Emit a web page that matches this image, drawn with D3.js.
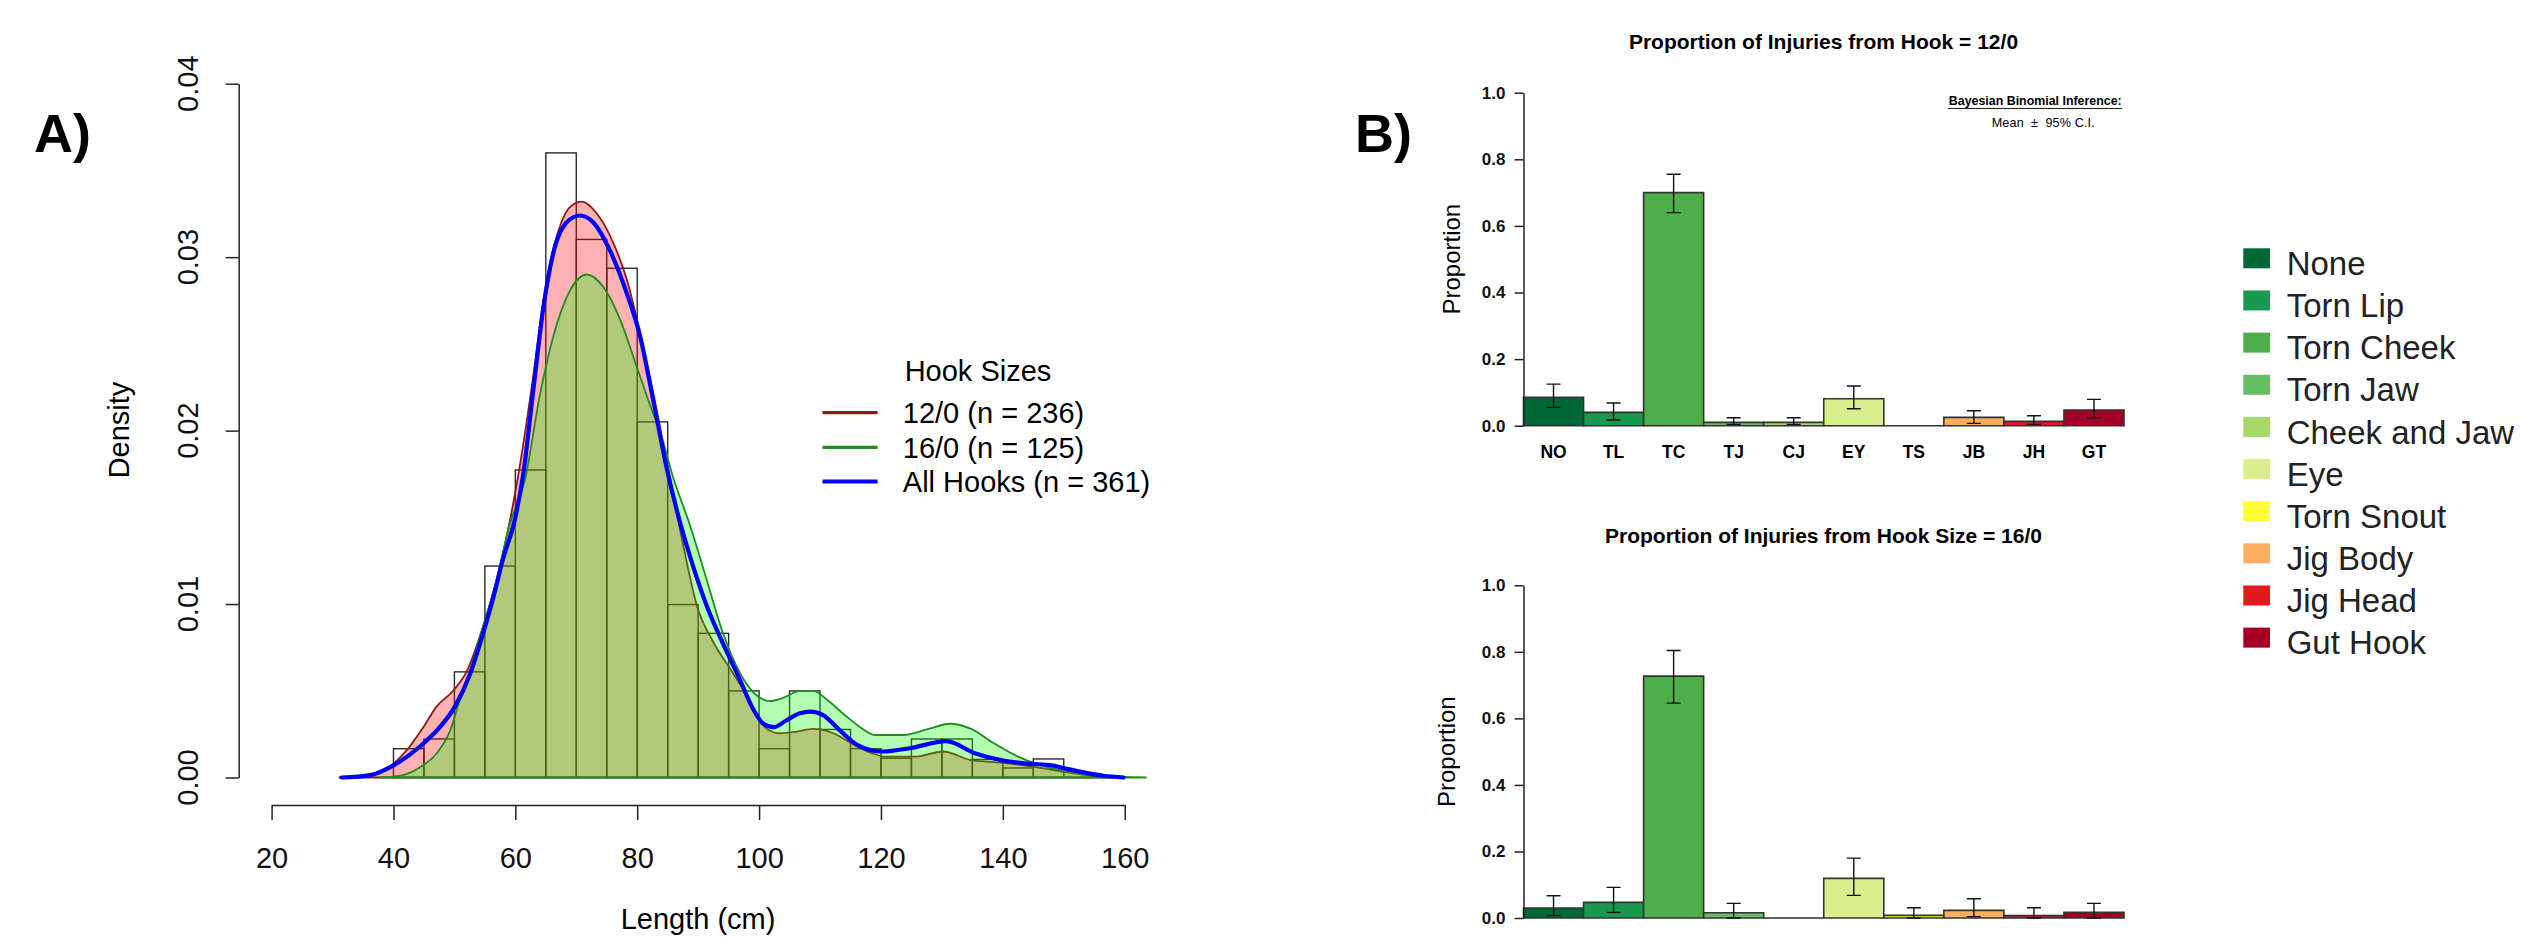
<!DOCTYPE html>
<html>
<head>
<meta charset="utf-8">
<script src="https://cdn.jsdelivr.net/npm/d3@7"></script>
<style>
  body { margin: 0; background: #fff; }
  text { font-family: "Liberation Sans", Arial, sans-serif; }
</style>
</head>
<body>
<script>
/* ---------- data : panel A ---------- */
const binLower = [40, 45, 50, 55, 60, 65, 70, 75, 80, 85, 90, 95, 100, 105, 110, 115, 120, 125, 130, 135, 140, 145];
const binDensity = [0.00166, 0.00222, 0.00609, 0.01219, 0.01773, 0.03601, 0.03102, 0.02936, 0.0205, 0.00997, 0.00831,
  0.00499, 0.00166, 0.00499, 0.00277, 0.00166, 0.00111, 0.00222, 0.00222, 0.00104, 0.00055, 0.00107];
const binWidth = 5;

// density curves: [length, density]
const dens12 = [[31.0, 0], [33.5, 0.00003], [36.2, 0.0001], [40.0, 0.0008], [42.7, 0.0018], [44.9, 0.0029],
  [47.1, 0.0041], [49.8, 0.0050], [52.0, 0.0061], [54.7, 0.0087], [57.5, 0.0122], [60.8, 0.0181], [63.0, 0.0233],
  [64.6, 0.0275], [66.8, 0.0312], [69.0, 0.0329], [70.9, 0.0332], [73.4, 0.0325], [76.1, 0.0308], [78.3, 0.0287],
  [80.5, 0.0256], [82.6, 0.0222], [84.8, 0.0183], [87.6, 0.0133], [89.8, 0.0099], [92.5, 0.0078], [95.2, 0.0063],
  [97.0, 0.0053], [99.1, 0.0039], [101.3, 0.0028], [103.5, 0.00255], [106.2, 0.00264], [108.9, 0.0028],
  [112.2, 0.00255], [115.5, 0.0019], [118.5, 0.0014], [120.8, 0.0012], [125.5, 0.0012], [130.2, 0.0015],
  [134.8, 0.0010], [140.1, 0.00085], [145.4, 0.0006], [150.1, 0.00033], [155.9, 0.00005], [159.0, 0]];

const dens16 = [[37.5, 0], [41.6, 0.00014], [44.4, 0.0006], [47.1, 0.0014], [49.3, 0.0027], [50.9, 0.0045],
  [52.6, 0.0062], [54.2, 0.0081], [57.0, 0.0115], [59.0, 0.0145], [61.6, 0.0172], [64.0, 0.0220], [66.2, 0.0254],
  [69.0, 0.0281], [71.7, 0.0290], [74.4, 0.0283], [77.2, 0.0264], [79.9, 0.0237], [82.6, 0.0210], [83.7, 0.0200],
  [85.9, 0.0173], [88.7, 0.0145], [91.4, 0.0114], [94.1, 0.0083], [96.9, 0.0060], [99.1, 0.0049], [101.8, 0.0044],
  [104.0, 0.0046], [106.7, 0.0050], [108.9, 0.0050], [111.1, 0.0045], [114.4, 0.0035], [116.6, 0.0029],
  [119.0, 0.00245], [123.7, 0.00245], [127.8, 0.0028], [131.3, 0.0031], [134.8, 0.0028], [138.4, 0.0020],
  [142.5, 0.0012], [147.2, 0.0006], [151.9, 0.0003], [155.9, 0.0001], [161.8, 0.00002], [163.6, 0]];

const densAll = [[31.5, 0], [36.2, 0.00014], [40.0, 0.0007], [44.4, 0.0018], [47.6, 0.0029], [50.1, 0.0041],
  [52.6, 0.0060], [54.7, 0.0083], [56.4, 0.0104], [57.9, 0.0125], [60.0, 0.0150], [61.3, 0.0175], [63.0, 0.0225],
  [64.6, 0.0271], [66.2, 0.0302], [68.4, 0.0320], [70.6, 0.0324], [72.8, 0.0320], [75.5, 0.0304], [78.3, 0.0279],
  [80.5, 0.0254], [82.6, 0.0218], [84.8, 0.0179], [86.5, 0.0154], [88.7, 0.0127], [91.4, 0.0099], [94.1, 0.0077],
  [96.9, 0.0056], [99.1, 0.0039], [100.7, 0.0031], [102.4, 0.0029], [104.5, 0.0033], [106.7, 0.0037],
  [108.4, 0.0038], [110.5, 0.0036], [113.3, 0.0027], [116.0, 0.0019], [120.2, 0.0015], [124.9, 0.0017],
  [130.7, 0.0021], [135.4, 0.0014], [140.1, 0.00097], [144.0, 0.0008], [148.0, 0.0007], [150.5, 0.0005],
  [153.2, 0.0003], [156.5, 0.0001], [159.8, 0]];

const xTicksA = [20, 40, 60, 80, 100, 120, 140, 160];
const yTicksA = [0, 0.01, 0.02, 0.03, 0.04];
const hookLegend = ['12/0 (n = 236)', '16/0 (n = 125)', 'All Hooks (n = 361)'];

/* ---------- data : panel B ---------- */
const injuryCodes = ['NO', 'TL', 'TC', 'TJ', 'CJ', 'EY', 'TS', 'JB', 'JH', 'GT'];
const injuryNames = ['None', 'Torn Lip', 'Torn Cheek', 'Torn Jaw', 'Cheek and Jaw', 'Eye', 'Torn Snout', 'Jig Body', 'Jig Head', 'Gut Hook'];
const injuryColors = ['#006837', '#1a9850', '#4dae4a', '#66bd63', '#a6d96a', '#d9ef8b', '#ffff33', '#fdae61', '#e31a1c', '#a50026'];

const mean12 = [0.085, 0.040, 0.700, 0.010, 0.010, 0.081, 0, 0.025, 0.013, 0.047];
const low12 = [0.055, 0.017, 0.640, 0.004, 0.004, 0.051, null, 0.007, 0.004, 0.024];
const high12 = [0.125, 0.068, 0.755, 0.024, 0.024, 0.119, null, 0.045, 0.030, 0.079];

const mean16 = [0.030, 0.047, 0.727, 0.016, 0, 0.119, 0.008, 0.023, 0.007, 0.017];
const low16 = [0.007, 0.017, 0.646, 0.000, null, 0.068, 0.000, 0.004, 0.000, 0.000];
const high16 = [0.067, 0.092, 0.804, 0.044, null, 0.180, 0.031, 0.058, 0.031, 0.044];

const yTicksB = [0, 0.2, 0.4, 0.6, 0.8, 1.0];

/* ---------- svg ---------- */
const width = 2523, height = 938;
const svg = d3.select('body').append('svg')
  .attr('width', width)
  .attr('height', height)
  .style('background', '#fff');

/* ===== Panel A ===== */
const xA = d3.scaleLinear().domain([20, 160]).range([271.6, 1124.7]);
const yA = d3.scaleLinear().domain([0, 0.04]).range([777.5, 83.7]);
const fsA = 29;

svg.append('text')
  .attr('x', 34).attr('y', 152)
  .style('font-size', '54px').style('font-weight', 'bold')
  .text('A)');

// histogram
svg.append('g')
  .selectAll('rect')
  .data(binLower)
  .enter().append('rect')
  .attr('x', d => xA(d))
  .attr('width', d => xA(d + binWidth) - xA(d))
  .attr('y', (d, i) => yA(binDensity[i]))
  .attr('height', (d, i) => yA(0) - yA(binDensity[i]))
  .attr('fill', 'none')
  .attr('stroke', '#2a2a2a')
  .attr('stroke-width', 1.4);

const area = d3.area()
  .x(d => xA(d[0]))
  .y0(yA(0))
  .y1(d => yA(d[1]))
  .curve(d3.curveMonotoneX);

const line = d3.line()
  .x(d => xA(d[0]))
  .y(d => yA(d[1]))
  .curve(d3.curveMonotoneX);

svg.append('path')
  .attr('d', area(dens12))
  .attr('fill', 'rgba(255,0,0,0.3)')
  .attr('stroke', '#8b1a1a')
  .attr('stroke-width', 1.8);

svg.append('path')
  .attr('d', area(dens16))
  .attr('fill', 'rgba(0,255,0,0.3)')
  .attr('stroke', '#228b22')
  .attr('stroke-width', 1.8);

svg.append('path')
  .attr('d', line(densAll))
  .attr('fill', 'none')
  .attr('stroke', '#0000ff')
  .attr('stroke-width', 4.2)
  .attr('stroke-linecap', 'round');

// x axis
const xAxisA = svg.append('g')
  .attr('transform', 'translate(0,805)')
  .call(d3.axisBottom(xA).tickValues(xTicksA).tickSize(15).tickSizeOuter(0).tickPadding(10));
xAxisA.selectAll('path, line').attr('stroke', '#222').attr('stroke-width', 1.5);
xAxisA.selectAll('text')
  .attr('dy', null).attr('y', 63)
  .style('font-size', fsA + 'px').attr('fill', '#111');

// y axis
const yAxisA = svg.append('g')
  .attr('transform', 'translate(238.7,0)')
  .call(d3.axisLeft(yA).tickValues(yTicksA).tickSize(13).tickSizeOuter(0));
yAxisA.selectAll('path, line').attr('stroke', '#222').attr('stroke-width', 1.5);
yAxisA.selectAll('text').remove();

svg.append('g')
  .selectAll('text')
  .data(yTicksA)
  .enter().append('text')
  .attr('transform', d => `translate(187.5,${yA(d)}) rotate(-90)`)
  .attr('dy', '0.35em')
  .attr('text-anchor', 'middle')
  .style('font-size', fsA + 'px').attr('fill', '#111')
  .text(d => d3.format('.2f')(d));

svg.append('text')
  .attr('transform', 'translate(118.6,430) rotate(-90)')
  .attr('dy', '0.35em')
  .attr('text-anchor', 'middle')
  .style('font-size', fsA + 'px')
  .text('Density');

svg.append('text')
  .attr('x', 698).attr('y', 929)
  .attr('text-anchor', 'middle')
  .style('font-size', fsA + 'px')
  .text('Length (cm)');

// legend A
svg.append('text')
  .attr('x', 978).attr('y', 381)
  .attr('text-anchor', 'middle')
  .style('font-size', fsA + 'px')
  .text('Hook Sizes');

const legA = svg.append('g');
const legAColors = ['#8b1a1a', '#228b22', '#0000ff'];
const legAWidths = [3.2, 3.2, 4.2];
const legAY = [412.7, 447.4, 481.5];
hookLegend.forEach((t, i) => {
  legA.append('line')
    .attr('x1', 822.5).attr('x2', 877.6)
    .attr('y1', legAY[i]).attr('y2', legAY[i])
    .attr('stroke', legAColors[i]).attr('stroke-width', legAWidths[i]);
  legA.append('text')
    .attr('x', 902.8).attr('y', legAY[i])
    .attr('dy', '0.35em')
    .style('font-size', fsA + 'px')
    .text(t);
});

/* ===== Panel B ===== */
svg.append('text')
  .attr('x', 1355).attr('y', 152)
  .style('font-size', '54px').style('font-weight', 'bold')
  .text('B)');

const xB = d3.scaleBand().domain(injuryCodes).range([1523.5, 2124]).padding(0);

function drawBars(yScale, means, lows, highs, title, titleY, propX, showCodes) {
  const g = svg.append('g');

  g.append('text')
    .attr('x', 1823.5).attr('y', titleY)
    .attr('text-anchor', 'middle')
    .style('font-size', '21px').style('font-weight', 'bold')
    .text(title);

  // bars (paths so that zero-height bars still show their outline)
  g.append('g')
    .selectAll('path')
    .data(injuryCodes)
    .enter().append('path')
    .attr('d', (d, i) => {
      const x0 = xB(d), x1 = x0 + xB.bandwidth();
      const y0 = yScale(0), y1 = yScale(means[i]);
      return `M${x0},${y0}H${x1}V${y1}H${x0}Z`;
    })
    .attr('fill', (d, i) => injuryColors[i])
    .attr('stroke', '#333')
    .attr('stroke-width', 1.6);

  // error bars
  g.append('g')
    .selectAll('path')
    .data(injuryCodes.filter((d, i) => lows[i] !== null))
    .enter().append('path')
    .attr('d', d => {
      const i = injuryCodes.indexOf(d);
      const cx = xB(d) + xB.bandwidth() / 2;
      const yl = yScale(lows[i]), yh = yScale(highs[i]);
      return `M${cx},${yl}V${yh}M${cx - 7},${yh}H${cx + 7}M${cx - 7},${yl}H${cx + 7}`;
    })
    .attr('fill', 'none')
    .attr('stroke', '#111')
    .attr('stroke-width', 1.4);

  const ax = g.append('g')
    .attr('transform', 'translate(1523.5,0)')
    .call(d3.axisLeft(yScale).tickValues(yTicksB).tickSize(9).tickSizeOuter(0).tickPadding(9)
      .tickFormat(d3.format('.1f')));
  ax.selectAll('path, line').attr('stroke', '#222').attr('stroke-width', 1.5);
  ax.selectAll('text')
    .style('font-size', '17px').style('font-weight', 'bold')
    .attr('fill', '#111');

  g.append('text')
    .attr('transform', `translate(${propX},${(yScale(0) + yScale(1)) / 2}) rotate(-90)`)
    .attr('dy', '0.35em')
    .attr('text-anchor', 'middle')
    .style('font-size', '24px')
    .text('Proportion');

  if (showCodes) {
    g.append('g')
      .selectAll('text')
      .data(injuryCodes)
      .enter().append('text')
      .attr('x', d => xB(d) + xB.bandwidth() / 2)
      .attr('y', yScale(0) + 32.5)
      .attr('text-anchor', 'middle')
      .style('font-size', '17.5px').style('font-weight', 'bold')
      .text(d => d);
  }
  return g;
}

const yTop = d3.scaleLinear().domain([0, 1]).range([425.7, 92.7]);
const yBot = d3.scaleLinear().domain([0, 1]).range([918, 585.3]);

drawBars(yTop, mean12, low12, high12, 'Proportion of Injuries from Hook = 12/0', 49, 1452, true);
drawBars(yBot, mean16, low16, high16, 'Proportion of Injuries from Hook Size = 16/0', 542.5, 1447, false);

// annotation
svg.append('text')
  .attr('x', 2121.7).attr('y', 105)
  .attr('text-anchor', 'end')
  .style('font-size', '12.4px').style('font-weight', 'bold')
  .text('Bayesian Binomial Inference:');
svg.append('line')
  .attr('x1', 1948).attr('x2', 2122)
  .attr('y1', 108.5).attr('y2', 108.5)
  .attr('stroke', '#222').attr('stroke-width', 1.2);
svg.append('text')
  .attr('x', 1991.7).attr('y', 126.7)
  .attr('textLength', 103).attr('lengthAdjust', 'spacing')
  .style('font-size', '12.6px')
  .style('white-space', 'pre')
  .text('Mean  \u00b1  95% C.I.');

// legend B
const legB = svg.append('g');
legB.selectAll('rect')
  .data(injuryNames)
  .enter().append('rect')
  .attr('x', 2243.3)
  .attr('y', (d, i) => 248.3 + i * 42.15)
  .attr('width', 26.7).attr('height', 20)
  .attr('fill', (d, i) => injuryColors[i]);
legB.selectAll('text')
  .data(injuryNames)
  .enter().append('text')
  .attr('x', 2286.7)
  .attr('y', (d, i) => 275 + i * 42.15)
  .style('font-size', '33px')
  .attr('fill', '#222')
  .text(d => d);
</script>
</body>
</html>
